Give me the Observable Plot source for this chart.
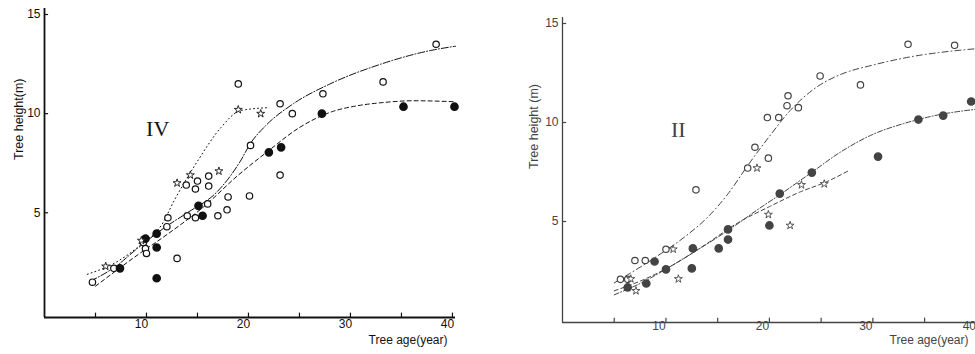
<!DOCTYPE html>
<html>
<head>
<meta charset="utf-8">
<script src="https://cdn.jsdelivr.net/npm/d3@7"></script>
<script src="https://cdn.jsdelivr.net/npm/@observablehq/plot@0.6"></script>
<style>
  html, body { margin: 0; padding: 0; background: #fff; overflow: hidden; }
  #wrap { position: relative; width: 975px; height: 354px; overflow: hidden; background: #fff; }
  #left, #right { position: absolute; top: 0; }
  #left { left: 0; width: 490px; }
  #right { left: 487px; width: 500px; }
  svg { overflow: visible; max-width: none !important; }
</style>
</head>
<body>
<div id="wrap"><div id="left"></div><div id="right"></div></div>
<script>
// ---------- tick values / labels ----------
const xTickVals = [5, 10, 15, 20, 25, 30, 35, 40];
const xTickLabels = [10, 20, 30, 40];
const yTickLabels = [5, 10, 15];
const xTitle = "Tree age(year)";
const yTitleLeft = "Tree height(m)";
const yTitleRight = "Tree height (m)";
const panelLeftName = "IV";
const panelRightName = "II";
const panelLeftNamePos = [11.1, 9.25];
const panelRightNamePos = [11.2, 9.6];

// ---------- Panel IV (left) ----------
const leftOpenAge = [4.7, 6.8, 9.7, 9.9, 10.0, 13.0, 12.0, 12.1, 14.0, 14.8, 13.9, 14.8, 15.0, 16.1, 16.1, 16.0, 17.0, 18.0, 17.9, 20.1, 19.0, 20.2, 23.1, 24.3, 23.1, 27.3, 33.2, 38.4];
const leftOpenH   = [1.5, 2.2, 3.5, 3.2, 2.95, 2.7, 4.3, 4.75, 4.85, 4.75, 6.4, 6.2, 6.6, 6.85, 6.35, 5.45, 4.85, 5.8, 5.15, 5.85, 11.5, 8.4, 10.5, 10.0, 6.9, 11.0, 11.6, 13.5];
const leftFilledAge = [7.4, 9.9, 11.0, 11.0, 11.0, 15.1, 15.5, 22.0, 23.2, 27.2, 35.2, 40.2];
const leftFilledH   = [2.2, 3.7, 3.95, 3.25, 1.7, 5.35, 4.85, 8.05, 8.3, 10.0, 10.35, 10.35];
const leftStarAge = [6.0, 9.5, 13.0, 14.3, 17.1, 19.0, 21.2];
const leftStarH   = [2.3, 3.6, 6.5, 6.9, 7.1, 10.2, 10.0];

const leftStarCurveAge = [4.2, 7, 9.7, 11.5, 12.7, 15, 17.3, 19.2, 21.9];
const leftStarCurveH   = [1.9, 2.5, 3.5, 4.4, 5.6, 7.6, 9.3, 10.15, 10.3];
const leftOpenCurveAge = [4.5, 7, 9.1, 11.9, 14, 17, 19.2, 20.2, 21.7, 24.4, 28, 33, 38, 40.3];
const leftOpenCurveH   = [1.55, 2.3, 3.2, 4.3, 5.0, 6.1, 7.6, 8.5, 9.4, 10.5, 11.5, 12.5, 13.2, 13.4];
const leftFilledCurveAge = [5, 9.2, 12, 15.6, 19, 21.9, 25, 28.2, 30.7, 33, 36.2, 40.3];
const leftFilledCurveH   = [1.3, 2.9, 3.9, 5.3, 6.9, 8.1, 9.3, 10.1, 10.4, 10.55, 10.65, 10.6];

// ---------- Panel II (right) ----------
const rightOpenAge = [5.6, 6.3, 7.0, 8.0, 10.0, 12.9, 17.9, 18.6, 19.9, 19.8, 20.9, 21.7, 22.8, 21.8, 24.9, 28.8, 33.4, 37.9];
const rightOpenH   = [2.08, 2.08, 3.03, 3.03, 3.6, 6.6, 7.7, 8.75, 8.2, 10.25, 10.25, 10.85, 10.75, 11.35, 12.35, 11.9, 13.95, 13.9];
const rightFilledAge = [6.3, 8.1, 8.9, 10.0, 12.6, 12.5, 15.1, 16.0, 16.0, 20.0, 21.0, 24.1, 30.5, 34.4, 36.8, 39.5];
const rightFilledH   = [1.67, 1.87, 2.98, 2.58, 3.64, 2.63, 3.64, 4.09, 4.6, 4.8, 6.41, 7.47, 8.28, 10.15, 10.35, 11.06];
const rightStarAge = [6.6, 7.1, 10.7, 11.2, 18.8, 19.9, 22.0, 23.1, 25.3];
const rightStarH   = [2.1, 1.5, 3.6, 2.1, 7.7, 5.35, 4.8, 6.85, 6.9];

const rightOpenCurveAge = [5, 9, 12, 14, 16, 18, 20, 22, 24.6, 27, 30, 34, 37.5, 40.5];
const rightOpenCurveH   = [1.9, 3.2, 4.3, 5.2, 6.4, 7.9, 9.3, 10.6, 11.8, 12.45, 12.9, 13.35, 13.6, 13.75];
const rightFilledCurveAge = [5, 8, 10, 13, 16, 19, 21, 24, 27, 30, 33, 36, 40.5];
const rightFilledCurveH   = [1.3, 2.0, 2.6, 3.55, 4.55, 5.65, 6.35, 7.45, 8.55, 9.4, 9.95, 10.35, 10.7];
const rightStarCurveAge = [5, 8, 11, 14, 17, 20, 23, 25.5, 27.6];
const rightStarCurveH   = [1.5, 2.1, 2.9, 3.9, 4.95, 5.75, 6.5, 7.0, 7.55];

const zip = (a, b) => a.map((v, i) => ({age: v, h: b[i]}));

function panel(opts) {
  const {width, marginLeft, marginRight, marginTop, marginBottom, xMax, yMin, ink, axisW,
         open, filled, star, openCurve, filledCurve, starCurve, dashes, name, namePos, yTitle,
         yTitleDx, yTitleDy, xTitleDx, xTitleDy, xLabDx, xLabDy, font} = opts;
  const txt = {fontFamily: font, fill: ink};
  return Plot.plot({
    width, height: 354, marginLeft, marginRight, marginTop, marginBottom,
    x: {domain: [0, xMax], axis: null},
    y: {domain: [yMin, 15], axis: null},
    style: {fontFamily: font, background: "transparent"},
    marks: [
      // axes frame
      Plot.ruleY([yMin], {x1: 0, x2: xMax, stroke: ink, strokeWidth: axisW}),
      Plot.ruleX([0], {y1: yMin, y2: 15.3, stroke: ink, strokeWidth: axisW}),
      Plot.ruleX(xTickVals, {x: d => d, y1: yMin, y2: yMin + 0.22, stroke: ink, strokeWidth: 1.2}),
      Plot.ruleY(yTickLabels, {y: d => d, x1: 0, x2: 0.4, stroke: ink, strokeWidth: 1.2}),
      Plot.text(xTickLabels, {x: d => d, frameAnchor: "bottom", dy: xLabDy, dx: xLabDx, text: d => String(d), fontSize: 12, ...txt}),
      Plot.text(yTickLabels, {y: d => d, frameAnchor: "left", dx: -4, textAnchor: "end", text: d => String(d), fontSize: 12, ...txt}),
      // curves
      Plot.line(starCurve, {x: "age", y: "h", curve: "monotone-x", stroke: ink, strokeWidth: 1, strokeDasharray: dashes[0]}),
      Plot.line(openCurve, {x: "age", y: "h", curve: "monotone-x", stroke: ink, strokeWidth: 1, strokeDasharray: dashes[1]}),
      Plot.line(filledCurve, {x: "age", y: "h", curve: "monotone-x", stroke: ink, strokeWidth: 1, strokeDasharray: dashes[2]}),
      // points
      Plot.dot(open, {x: "age", y: "h", r: 3.2, stroke: ink, strokeWidth: 1.2, fill: "white"}),
      Plot.dot(filled, {x: "age", y: "h", r: 3.6, fill: ink, stroke: ink}),
      Plot.dot(star, {x: "age", y: "h", symbol: "star", r: 2.5, stroke: ink, strokeWidth: 0.9, fill: "white"}),
      // labels
      Plot.text([name], {x: namePos[0], y: namePos[1], text: d => d, fontFamily: "Liberation Serif", fontSize: 22, fill: ink}),
      Plot.text([yTitle], {frameAnchor: "left", rotate: -90, dx: yTitleDx, dy: yTitleDy, text: d => d, fontSize: 12.5, fontFamily: font, fill: ink, style: "letter-spacing:1px"}),
      Plot.text([xTitle], {frameAnchor: "bottom-right", textAnchor: "end", dx: xTitleDx, dy: xTitleDy, text: d => d, fontSize: 12, fontFamily: font, fill: ink})
    ]
  });
}

const left = panel({
  width: 490, marginLeft: 44, marginRight: 35, marginTop: 14, marginBottom: 37,
  xMax: 40.3, yMin: -0.28, ink: "#111", axisW: 1.8,
  open: zip(leftOpenAge, leftOpenH), filled: zip(leftFilledAge, leftFilledH), star: zip(leftStarAge, leftStarH),
  openCurve: zip(leftOpenCurveAge, leftOpenCurveH), filledCurve: zip(leftFilledCurveAge, leftFilledCurveH),
  starCurve: zip(leftStarCurveAge, leftStarCurveH),
  dashes: ["1,3", "7,2,1,2", "4,3"],
  name: panelLeftName, namePos: panelLeftNamePos, yTitle: yTitleLeft,
  yTitleDx: -26, yTitleDy: -6, xTitleDx: -8, xTitleDy: 26, xLabDx: -5, xLabDy: 10,
  font: "Liberation Sans"
});
const right = panel({
  width: 500, marginLeft: 75, marginRight: 6, marginTop: 23, marginBottom: 32,
  xMax: 40.5, yMin: -0.1, ink: "#444", axisW: 1.3,
  open: zip(rightOpenAge, rightOpenH), filled: zip(rightFilledAge, rightFilledH), star: zip(rightStarAge, rightStarH),
  openCurve: zip(rightOpenCurveAge, rightOpenCurveH), filledCurve: zip(rightFilledCurveAge, rightFilledCurveH),
  starCurve: zip(rightStarCurveAge, rightStarCurveH),
  dashes: ["4,3", "6,3,1,3", "5,2,1,2"],
  name: panelRightName, namePos: panelRightNamePos, yTitle: yTitleRight,
  yTitleDx: -29, yTitleDy: -4, xTitleDx: -13, xTitleDy: 21, xLabDx: -7, xLabDy: 7,
  font: "Liberation Sans"
});
document.getElementById("left").appendChild(left);
document.getElementById("right").appendChild(right);
</script>
</body>
</html>
